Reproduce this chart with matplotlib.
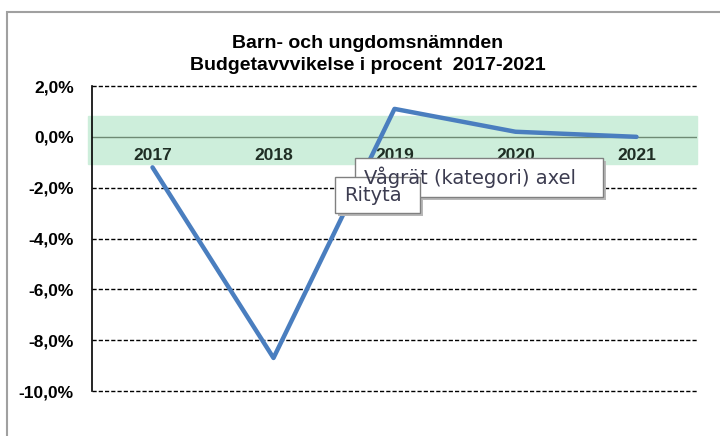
import numpy as np
import matplotlib.pyplot as plt
from matplotlib.patches import Rectangle
from matplotlib.ticker import FuncFormatter

# data
years = ['2017', '2018', '2019', '2020', '2021']
deviation = [-1.2, -8.7, 1.1, 0.2, 0.0]     # budget deviation in percent
band_low, band_high = -1.05, 0.82           # shaded target band
yticks = [2, 0, -2, -4, -6, -8, -10]

plt.rcParams['font.family'] = ['Liberation Sans', 'DejaVu Sans']

fig = plt.figure(figsize=(7.2, 4.36), dpi=100)
ax = fig.add_axes([92/720, 1 - 391/436, 605/720, 305/436])

x = np.arange(len(years))
ax.set_xlim(-0.5, len(years) - 0.5)
ax.set_ylim(-10, 2)

# green band and zero line
ax.axhspan(band_low, band_high, xmin=-4/605, xmax=1.0, color='#cdeedb', zorder=0, clip_on=False)
ax.axhline(0, color='#6e8a74', lw=1.0, zorder=1)

# dashed gridlines
for t in yticks:
    if t != 0:
        ax.axhline(t, color='black', lw=1.0, ls=(0, (3, 1.5)), zorder=1, clip_on=False)

ax.plot(x, deviation, color='#4a7ebf', lw=3.2, solid_capstyle='round', zorder=3)

for s in ['top', 'right']:
    ax.spines[s].set_visible(False)
ax.spines['left'].set_linewidth(1.2)
ax.spines['bottom'].set_position(('data', 0))
ax.spines['bottom'].set_visible(False)

ax.set_yticks(yticks)
ax.yaxis.set_major_formatter(FuncFormatter(lambda v, p: ('%.1f%%' % v).replace('.', ',')))
ax.tick_params(axis='y', length=0, pad=13, labelsize=12.5)
for lab in ax.get_yticklabels():
    lab.set_fontweight('bold')

ax.set_xticks(x)
ax.set_xticklabels(years, fontweight='bold', fontsize=12.5, color='#1f2e24')
ax.tick_params(axis='x', length=0, pad=8)

fig.text(368/720, 1 - 43/436, 'Barn- och ungdomsnämnden', ha='center', va='center',
         fontsize=14, fontweight='bold')
fig.text(368/720, 1 - 66/436, 'Budgetavvvikelse i procent  2017-2021', ha='center', va='center',
         fontsize=14, fontweight='bold')

# outer chart border
fig.patches.append(Rectangle((7/720, -0.05), 1.0, 1 - 12/436 + 0.05, transform=fig.transFigure,
                             fill=False, edgecolor='#a0a0a0', lw=1.5))

# tooltips
def tooltip(x0, y0, x1, y1, text):
    w, h = (x1 - x0) / 720, (y1 - y0) / 436
    fig.patches.append(Rectangle((x0/720 + 3/720, 1 - y1/436 - 3/436), w, h, transform=fig.transFigure,
                                 facecolor='#b8b8b8', edgecolor='none', zorder=10))
    fig.patches.append(Rectangle((x0/720, 1 - y1/436), w, h, transform=fig.transFigure,
                                 facecolor='white', edgecolor='#808080', lw=1.0, zorder=11))
    fig.text(x0/720 + 9/720, 1 - (y0 + y1) / 2 / 436, text, ha='left', va='center',
             fontsize=14, color='#3c3c50', family='DejaVu Sans', zorder=12)

tooltip(355, 158, 603, 197, 'Vågrät (kategori) axel')
tooltip(335, 177, 420, 213, 'Rityta')

fig.savefig('out.png', dpi=100)
